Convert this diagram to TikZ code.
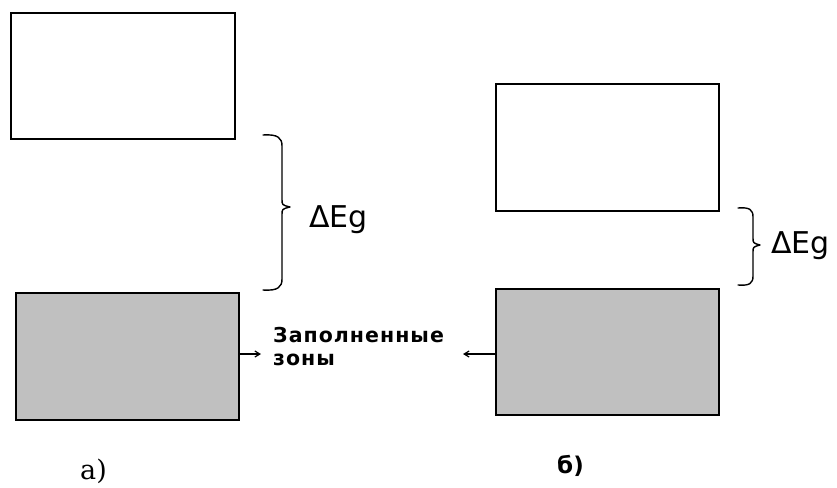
\documentclass[tikz,border=0pt]{standalone}
\usepackage{fontspec}
\setmainfont{DejaVu Sans}
\newfontfamily\capserif{DejaVu Serif}
\newfontfamily\zonefont[LetterSpace=5]{DejaVu Sans Bold}
\usetikzlibrary{arrows.meta}
\definecolor{bandgray}{RGB}{192,192,192}
\begin{document}
\begin{tikzpicture}[x=1pt,y=-1pt,
  band/.style={draw=black,line width=1.6pt,inner sep=0pt,anchor=north west},
  filled/.style={band,fill=bandgray},
  bracepath/.style={line width=1.4pt,line cap=round,line join=round},
  ptr/.style={-{Straight Barb[length=5pt,width=6pt]},line width=1.2pt},
  biglbl/.style={font=\fontsize{30}{34}\selectfont,inner sep=0pt,anchor=base west},
  zonelbl/.style={font=\zonefont\fontsize{20.5}{23}\selectfont,inner sep=0pt,align=left,anchor=base west}]
\useasboundingbox (0,0) rectangle (837,487);
% a)
\node[band,minimum width=224pt,minimum height=126pt] (aup) at (10,12) {};
\node[filled,minimum width=223pt,minimum height=127pt] (alow) at (15,292) {};
\coordinate (abt) at (263,135);
\coordinate (abtip) at (290,207);
\coordinate (abb) at (263,290);
\draw[bracepath] (abt) .. controls (278,134) and (282,138) .. (282,146)
  -- (282,199) .. controls (282,205) .. (abtip)
  .. controls (282,209) .. (282,215)
  -- (282,279) .. controls (282,287) and (278,291) .. (abb);
\node[biglbl] (aeg) at (309,227) {ΔEg};
% b)
\node[band,minimum width=223pt,minimum height=127pt] (bup) at (495,83) {};
\node[filled,minimum width=223pt,minimum height=126pt] (blow) at (495,288) {};
\coordinate (bbt) at (738,208);
\coordinate (bbtip) at (760,245);
\coordinate (bbb) at (738,285);
\draw[bracepath] (bbt) .. controls (750,207) and (753,210) .. (753,217)
  -- (753,238) .. controls (753,243) .. (bbtip)
  .. controls (753,247) .. (753,252)
  -- (753,276) .. controls (753,283) and (750,286) .. (bbb);
\node[biglbl] (beg) at (771,253) {ΔEg};
% label and pointers
\node[zonelbl] (zones) at (273,365) {Заполненные\\зоны};
\coordinate (aend) at (261,354);
\coordinate (bend) at (463,354);
\draw[ptr] (alow.east |- aend) -- (aend);
\draw[ptr] (blow.west |- bend) -- (bend);
% captions
\node[font=\capserif\fontsize{27}{30}\selectfont,inner sep=0pt,anchor=base west] (capa) at (80,479) {а)};
\node[font=\bfseries\fontsize{23}{26}\selectfont,inner sep=0pt,anchor=base west] (capb) at (557,473) {б)};
\end{tikzpicture}
\end{document}
